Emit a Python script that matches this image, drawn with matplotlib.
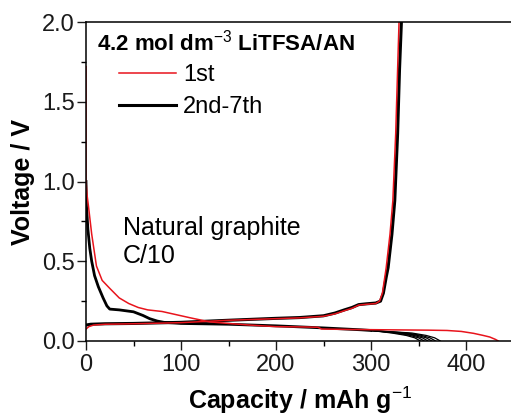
import matplotlib
matplotlib.use('Agg')
import matplotlib.pyplot as plt
from matplotlib.ticker import MultipleLocator

plt.rcParams['font.family'] = ['Liberation Sans', 'DejaVu Sans']
plt.rcParams['mathtext.fontset'] = 'custom'
plt.rcParams['mathtext.rm'] = 'Liberation Sans'
plt.rcParams['mathtext.bf'] = 'Liberation Sans:bold'

# 1st cycle, discharge (lithiation)
cap_1st_dis = [0, 0, 1, 2.5, 6, 11, 17, 25, 35, 45, 55, 65, 80, 95, 110, 130,
               150, 172, 200, 230, 244, 248, 280, 320, 360, 380, 395, 408,
               418, 425, 431, 434]
v_1st_dis = [1.72, 1.0, 0.92, 0.85, 0.67, 0.47, 0.38, 0.33, 0.27, 0.235, 0.21,
             0.195, 0.185, 0.165, 0.145, 0.12, 0.11, 0.1, 0.09, 0.088, 0.086,
             0.075, 0.072, 0.07, 0.068, 0.066, 0.06, 0.048, 0.035, 0.025,
             0.01, 0.0]

# 1st cycle, charge (delithiation)
cap_1st_chg = [0, 3, 8, 20, 50, 100, 150, 200, 225, 250, 262, 272, 280, 287,
               295, 305, 309, 312, 314, 316, 320, 323, 326, 328, 329.5]
v_1st_chg = [0.075, 0.09, 0.1, 0.105, 0.108, 0.115, 0.13, 0.14, 0.145, 0.155,
             0.17, 0.19, 0.205, 0.225, 0.23, 0.235, 0.25, 0.3, 0.38, 0.46,
             0.67, 0.88, 1.3, 1.7, 2.0]

# 2nd-7th cycles, discharge: common start
cap_n_dis = [0, 0.5, 2, 4, 6, 9, 13, 18, 22, 25, 35, 50, 60, 67, 75, 82, 100,
             150, 200, 250, 290, 300]
v_n_dis = [1.0, 0.85, 0.7, 0.58, 0.5, 0.41, 0.34, 0.27, 0.22, 0.2, 0.195,
           0.183, 0.16, 0.14, 0.125, 0.117, 0.11, 0.105, 0.095, 0.082, 0.07,
           0.066]

# 2nd-7th cycles, discharge: ends of each cycle
cap_n_tail = [
    [300, 322, 337, 346, 352],
    [300, 326, 341, 350, 356],
    [300, 330, 345, 354, 360],
    [300, 334, 349, 358, 364],
    [300, 338, 353, 362, 368],
    [300, 343, 358, 367, 373],
]
v_n_tail = [0.066, 0.05, 0.035, 0.02, 0.0]

# 2nd-7th cycles, charge
cap_n_chg = [0, 5, 20, 50, 100, 150, 200, 225, 250, 262, 272, 280, 287, 295,
             305, 310, 313, 316, 318, 322, 325, 328, 330, 332]
v_n_chg = [0.1, 0.105, 0.108, 0.11, 0.117, 0.13, 0.142, 0.147, 0.158, 0.175,
           0.195, 0.21, 0.228, 0.233, 0.238, 0.25, 0.3, 0.4, 0.46, 0.67, 0.88,
           1.3, 1.7, 2.0]

red = '#e8141c'

fig = plt.figure(figsize=(5.11, 4.16), dpi=100)
ax = fig.add_axes([86 / 511, 0.1803, 427.5 / 511, 0.7668])

# black cycles first, red on top
ax.plot(cap_n_dis, v_n_dis, color='black', lw=2.0, solid_joinstyle='round')
for tail in cap_n_tail:
    ax.plot(tail, v_n_tail, color='black', lw=0.9)
ax.plot(cap_n_chg, v_n_chg, color='black', lw=2.2, solid_joinstyle='round',
        label='2nd-7th')
ax.plot(cap_1st_dis, v_1st_dis, color=red, lw=1.1)
ax.plot(cap_1st_chg, v_1st_chg, color=red, lw=1.1, label='1st')

ax.set_xlim(0, 450)
ax.set_ylim(0, 2.0)
ax.xaxis.set_major_locator(MultipleLocator(100))
ax.xaxis.set_minor_locator(MultipleLocator(50))
ax.yaxis.set_major_locator(MultipleLocator(0.5))
ax.yaxis.set_minor_locator(MultipleLocator(0.25))
ax.yaxis.set_major_formatter(plt.FormatStrFormatter('%.1f'))
ax.tick_params(which='major', direction='out', length=6.5, width=1.0,
               labelsize=17, pad=1.5, colors='#1a1a1a')
ax.tick_params(which='minor', direction='out', length=3.5, width=1.0)
ax.tick_params(axis='x', pad=3)
for s in ax.spines.values():
    s.set_linewidth(1.1)

ax.set_xlabel('Capacity / mAh g$^{-1}$', fontsize=18, fontweight='bold',
              labelpad=6)
ax.set_ylabel('Voltage / V', fontsize=18, fontweight='bold', labelpad=5)

# legend title placed as text, entries indented below it
ax.text(11 / 427.5, 1 - 28 / 319, '4.2 mol dm$^{-3}$ LiTFSA/AN',
        transform=ax.transAxes, fontsize=16, fontweight='bold',
        ha='left', va='baseline')
h, l = ax.get_legend_handles_labels()
leg = ax.legend(h[::-1], l[::-1], loc='upper left',
                bbox_to_anchor=(33 / 427.5, 1 - 42 / 319), frameon=False,
                fontsize=17, handlelength=2.42, handletextpad=0.3,
                labelspacing=0.42, borderaxespad=0, borderpad=0)

ax.text(37 / 427.5, 0.31, 'Natural graphite\nC/10', transform=ax.transAxes,
        fontsize=18, va='center', ha='left', linespacing=1.25)

fig.savefig('out.png', dpi=100)
